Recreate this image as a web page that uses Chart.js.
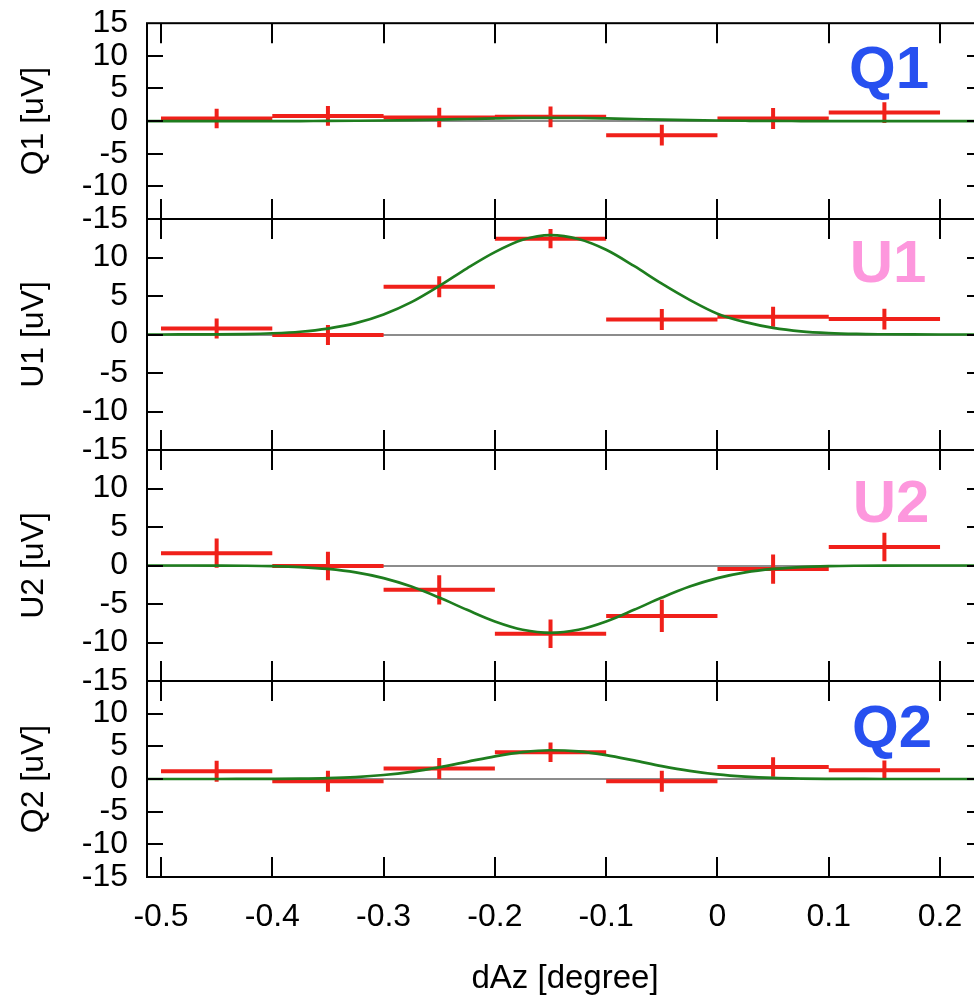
<!DOCTYPE html>
<html>
<head>
<meta charset="utf-8">
<script src="https://cdn.jsdelivr.net/npm/chart.js@4/dist/chart.umd.min.js"></script>
<style>
  html, body { margin: 0; padding: 0; background: #fff; overflow: hidden; }
  #wrap { position: relative; width: 974px; height: 999px; overflow: hidden; background: #fff; }
  #wrap canvas { position: absolute; left: 0; top: 0; }
  #wrap canvas#c0 { top: -15px; }
</style>
</head>
<body>
<div id="wrap">
  <canvas id="c0" width="995" height="999"></canvas>
  <canvas id="c1" width="995" height="999"></canvas>
  <canvas id="c2" width="995" height="999"></canvas>
  <canvas id="c3" width="995" height="999"></canvas>
</div>
<script>
// ---------------- data ----------------
const panelNames = ['Q1', 'U1', 'U2', 'Q2'];
const yTitles = ['Q1 [uV]', 'U1 [uV]', 'U2 [uV]', 'Q2 [uV]'];
const xTitle = 'dAz [degree]';
const xTickValues = [-0.5, -0.4, -0.3, -0.2, -0.1, 0, 0.1, 0.2];
const yTickValues = [-15, -10, -5, 0, 5, 10, 15];

const binCenters = [-0.45, -0.35, -0.25, -0.15, -0.05, 0.05, 0.15];
const binHalfWidth = 0.05;

const q1Values = [0.4, 0.8, 0.55, 0.65, -2.15, 0.4, 1.3];
const q1Errors = [1.5, 1.5, 1.5, 1.6, 1.6, 1.6, 1.6];
const u1Values = [0.78, -0.05, 6.2, 12.45, 1.95, 2.3, 2.0];
const u1Errors = [1.3, 1.3, 1.35, 1.25, 1.35, 1.3, 1.35];
const u2Values = [1.6, -0.05, -3.15, -8.87, -6.55, -0.47, 2.4];
const u2Errors = [1.9, 1.85, 1.9, 1.85, 2.1, 1.9, 1.85];
const q2Values = [1.18, -0.35, 1.6, 4.1, -0.35, 1.84, 1.33];
const q2Errors = [1.6, 1.6, 1.6, 1.5, 1.6, 1.5, 1.5];

const fitX = [-0.5125, -0.5, -0.475, -0.45, -0.425, -0.4, -0.375, -0.35, -0.325, -0.3,
              -0.275, -0.25, -0.225, -0.2, -0.175, -0.15, -0.125, -0.1, -0.075, -0.05,
              -0.025, 0, 0.025, 0.05, 0.075, 0.1, 0.125, 0.15, 0.175, 0.2, 0.2375];
const q1Fit = [0, 0, 0, 0, 0, 0, 0.01, 0.02, 0.05, 0.09, 0.15, 0.23, 0.32, 0.41, 0.48, 0.5,
               0.48, 0.41, 0.32, 0.23, 0.15, 0.09, 0.05, 0.02, 0.01, 0, 0, 0, 0, 0, 0];
const u1Fit = [0, 0, 0.01, 0.02, 0.06, 0.16, 0.36, 0.77, 1.47, 2.6, 4.2, 6.3, 8.6, 10.7, 12.3, 12.9,
               12.4, 11.0, 8.9, 6.6, 4.5, 2.7, 1.6, 0.86, 0.41, 0.18, 0.07, 0.03, 0.01, 0, 0];
const u2Fit = [0, 0, 0, -0.01, -0.03, -0.08, -0.2, -0.45, -0.9, -1.64, -2.74, -4.17, -5.76, -7.27, -8.35, -8.75,
               -8.35, -7.27, -5.76, -4.17, -2.74, -1.64, -0.9, -0.45, -0.2, -0.08, -0.03, -0.01, 0, 0, 0];
const q2Fit = [0, 0, 0, 0, 0.01, 0.02, 0.05, 0.13, 0.3, 0.61, 1.1, 1.79, 2.63, 3.47, 4.12, 4.4,
               4.22, 3.65, 2.84, 1.98, 1.25, 0.7, 0.36, 0.16, 0.07, 0.03, 0.01, 0, 0, 0, 0];

const panelValues = [q1Values, u1Values, u2Values, q2Values];
const panelErrors = [q1Errors, u1Errors, u2Errors, q2Errors];
const panelFits = [q1Fit, u1Fit, u2Fit, q2Fit];

// ---------------- layout / style ----------------
const FONT = "'Liberation Sans', Arial, Helvetica, sans-serif";
const CANVAS_H = 999;
// canvas vertical offset on the page (canvas 0 is shifted up)
const canvasShift = [15, 0, 0, 0];
const panelTop = [23, 219, 450, 681];
const panelBottom = [219, 450, 681, 877];
const labelColors = ['#2750f0', '#fd97dd', '#fd97dd', '#2750f0'];
const labelBaseOffset = [65, 63, 72, 66];
const labelCenterX = [889, 888, 891, 892];
const X_MIN = -0.51258, X_MAX = 0.2386;
const RED = '#f0201a', GREEN = '#1e7d1e';

function hBars(vals) {
  const pts = [];
  binCenters.forEach((c, i) => {
    pts.push({x: c - binHalfWidth, y: vals[i]}, {x: c + binHalfWidth, y: vals[i]}, {x: c + binHalfWidth, y: null});
  });
  return pts;
}
function vBars(vals, errs) {
  const pts = [];
  binCenters.forEach((c, i) => {
    pts.push({x: c, y: vals[i] - errs[i]}, {x: c, y: vals[i] + errs[i]}, {x: c, y: null});
  });
  return pts;
}

const framePlugin = {
  id: 'frame',
  afterDraw(chart, args, opts) {
    const ctx = chart.ctx;
    const a = chart.chartArea;
    const xs = chart.scales.x, ys = chart.scales.y;
    ctx.save();
    ctx.strokeStyle = '#000';
    ctx.lineWidth = 2;
    ctx.beginPath();
    xTickValues.forEach(v => {
      const px = Math.round(xs.getPixelForValue(v));
      ctx.moveTo(px, a.top); ctx.lineTo(px, a.top + 20);
      ctx.moveTo(px, a.bottom); ctx.lineTo(px, a.bottom - 20);
    });
    yTickValues.forEach(v => {
      if (Math.abs(v) === 15) return;
      const py = Math.round(ys.getPixelForValue(v));
      ctx.moveTo(a.left, py); ctx.lineTo(a.left + 16, py);
      ctx.moveTo(a.right, py); ctx.lineTo(a.right - 16, py);
    });
    ctx.stroke();
    ctx.strokeRect(a.left, a.top, a.right - a.left, a.bottom - a.top);
    ctx.fillStyle = opts.color;
    ctx.font = 'bold 60px ' + FONT;
    ctx.textAlign = 'center';
    ctx.textBaseline = 'alphabetic';
    ctx.fillText(opts.text, opts.cx, a.top + opts.base);
    ctx.restore();
  }
};

function makeChart(i) {
  const isLast = i === 3;
  const datasets = [
    {
      data: fitX.map((x, k) => ({x, y: panelFits[i][k]})),
      borderColor: GREEN, borderWidth: 2.7, pointRadius: 0,
      cubicInterpolationMode: 'monotone', order: 0, fill: false
    },
    {
      data: hBars(panelValues[i]),
      borderColor: RED, borderWidth: 4, pointRadius: 0, spanGaps: false,
      borderCapStyle: 'butt', order: 1, fill: false
    },
    {
      data: vBars(panelValues[i], panelErrors[i]),
      borderColor: RED, borderWidth: 4, pointRadius: 0, spanGaps: false,
      borderCapStyle: 'butt', order: 2, fill: false
    }
  ];
  const top = panelTop[i] + canvasShift[i];
  const bottom = panelBottom[i] + canvasShift[i];
  return new Chart(document.getElementById('c' + i), {
    type: 'line',
    data: { datasets },
    plugins: [framePlugin],
    options: {
      responsive: false,
      animation: false,
      events: [],
      layout: {
        padding: { top: top, bottom: isLast ? 0 : CANVAS_H - bottom, left: 0, right: 12 }
      },
      plugins: {
        legend: { display: false },
        tooltip: { enabled: false },
        frame: { text: panelNames[i], color: labelColors[i], base: labelBaseOffset[i], cx: labelCenterX[i] }
      },
      scales: {
        x: {
          type: 'linear',
          display: isLast,
          min: X_MIN, max: X_MAX,
          afterFit: s => { if (isLast) s.height = CANVAS_H - panelBottom[3]; },
          grid: { display: false, drawTicks: false },
          border: { display: false },
          ticks: {
            stepSize: 0.1, includeBounds: false, autoSkip: false, maxRotation: 0,
            padding: 21, color: '#000',
            font: { family: FONT, size: 32 },
            callback: v => String(Number(Number(v).toFixed(1)))
          },
          title: {
            display: true, text: xTitle, color: '#000',
            font: { family: FONT, size: 33 }, padding: { top: 0, bottom: 0 }
          }
        },
        y: {
          type: 'linear',
          min: -15, max: 15,
          afterFit: s => { s.width = 147; },
          grid: {
            drawTicks: false,
            color: c => (c.tick && c.tick.value === 0) ? '#8c8c8c' : 'rgba(0,0,0,0)',
            lineWidth: 2
          },
          border: { display: false },
          ticks: {
            stepSize: 5, autoSkip: false, padding: 19, color: '#000',
            font: { family: FONT, size: 32 },
            callback: v => (v === 15 && i > 0) ? '' : String(v)
          },
          title: {
            display: true, text: yTitles[i], color: '#000',
            font: { family: FONT, size: 32 }, padding: { top: 15, bottom: 0 }
          }
        }
      }
    }
  });
}

[0, 1, 2, 3].forEach(makeChart);
</script>
</body>
</html>
